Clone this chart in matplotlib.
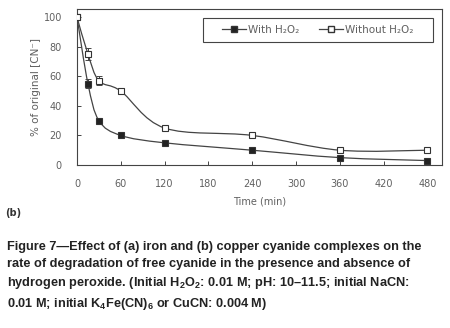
import numpy as np
import matplotlib
matplotlib.use("Agg")
import matplotlib.pyplot as plt
from matplotlib.path import Path
from matplotlib.patches import PathPatch, Rectangle
from matplotlib.lines import Line2D

plt.rcParams["mathtext.fontset"] = "custom"
plt.rcParams["mathtext.rm"] = "Liberation Sans:bold"
plt.rcParams["mathtext.it"] = "Liberation Sans:bold"
plt.rcParams["mathtext.bf"] = "Liberation Sans:bold"

time_min = [0, 15, 30, 60, 120, 240, 360, 480]
with_h2o2 = [100, 55, 30, 20, 15, 10, 5, 3]
with_err = [0, 3, 0, 0, 1, 0, 0, 0]
without_h2o2 = [100, 75, 57, 50, 25, 20, 10, 10]
without_err = [0, 4, 3, 2, 1, 0, 1, 0]
xticks = [0, 60, 120, 180, 240, 300, 360, 420, 480]
yticks = [0, 20, 40, 60, 80, 100]

caption = ("Figure 7\u2014Effect of (a) iron and (b) copper cyanide complexes on the\n"
           "rate of degradation of free cyanide in the presence and absence of\n"
           "hydrogen peroxide. (Initial H$_2$O$_2$: 0.01 M; pH: 10\u201311.5; initial NaCN:\n"
           "0.01 M; initial K$_4$Fe(CN)$_6$ or CuCN: 0.004 M)")

GREY = "#606060"
LINE = "#444444"


def smooth_path(x, y):
    # excel-style smoothed line: cubic bezier with catmull-rom control points
    x = np.asarray(x, float); y = np.asarray(y, float)
    verts = [(x[0], y[0])]
    codes = [Path.MOVETO]
    n = len(x)
    for i in range(n - 1):
        i0 = max(i - 1, 0); i3 = min(i + 2, n - 1)
        c1 = (x[i] + (x[i + 1] - x[i0]) / 6, y[i] + (y[i + 1] - y[i0]) / 6)
        c2 = (x[i + 1] - (x[i3] - x[i]) / 6, y[i + 1] - (y[i3] - y[i]) / 6)
        verts += [c1, c2, (x[i + 1], y[i + 1])]
        codes += [Path.CURVE4] * 3
    return Path(verts, codes)


fig = plt.figure(figsize=(4.5, 3.28), dpi=100)
fig.patch.set_facecolor("white")
ax = fig.add_axes([77 / 450, 1 - 165 / 328, 365 / 450, 156 / 328])

for t, v, e, face in [(time_min, with_h2o2, with_err, "#222222"),
                      (time_min, without_h2o2, without_err, "white")]:
    ax.add_patch(PathPatch(smooth_path(t, v), fill=False, ec=LINE, lw=0.9, zorder=2))
    ax.errorbar(t, v, yerr=e, fmt="none", ecolor=LINE, elinewidth=0.7,
                capsize=2, capthick=0.7, zorder=3)
    ax.plot(t, v, ls="none", marker="s", ms=4.2, mfc=face, mec="#333333", mew=0.8, zorder=4)

ax.set_xlim(0, 500)
ax.set_ylim(0, 105.5)
ax.set_xticks(xticks)
ax.set_yticks(yticks)
ax.tick_params(direction="in", length=3, width=0.7, colors=LINE,
               labelcolor=GREY, labelsize=7)
ax.tick_params(axis="x", pad=10)
ax.tick_params(axis="y", pad=10.8)
for s in ax.spines.values():
    s.set_color(LINE)
    s.set_linewidth(0.8)
ax.set_xlabel("Time (min)", fontsize=7, color=GREY, va="top")
ax.xaxis.set_label_coords(0.5, -0.2)
ax.set_ylabel("% of original [CN\u207b]", fontsize=7.5, color=GREY)
ax.yaxis.set_label_coords(-0.099, 0.5)

# legend box (frame drawn separately, the original has wide side padding)
ax.add_patch(Rectangle((0.345, 0.788), 0.63, 0.154, transform=ax.transAxes,
                       fill=True, fc="white", ec=LINE, lw=0.8, zorder=5))
handles = [Line2D([], [], color=LINE, lw=0.9, marker="s", ms=4, mfc="#222222", mec="#333333"),
           Line2D([], [], color=LINE, lw=0.9, marker="s", ms=4, mfc="white", mec="#333333")]
leg = ax.legend(handles, ["With H\u2082O\u2082", "Without H\u2082O\u2082"], ncol=2,
                loc="center", bbox_to_anchor=(0.66, 0.865), fontsize=7.5,
                frameon=False, handlelength=2.3, handletextpad=0.2,
                columnspacing=1.9, borderpad=0, labelcolor=GREY)
leg.set_zorder(6)

fig.text(5 / 450, 1 - 213 / 328, "(b)", fontsize=7, fontweight="bold",
         color="#333333", va="center", family="DejaVu Sans")

fig.text(7 / 450, 1 - 241 / 328, caption, fontsize=9.2, fontweight="bold",
         color="#222222", va="top", ha="left", linespacing=1.5,
         family="Liberation Sans")

fig.savefig("out.png", dpi=100)
